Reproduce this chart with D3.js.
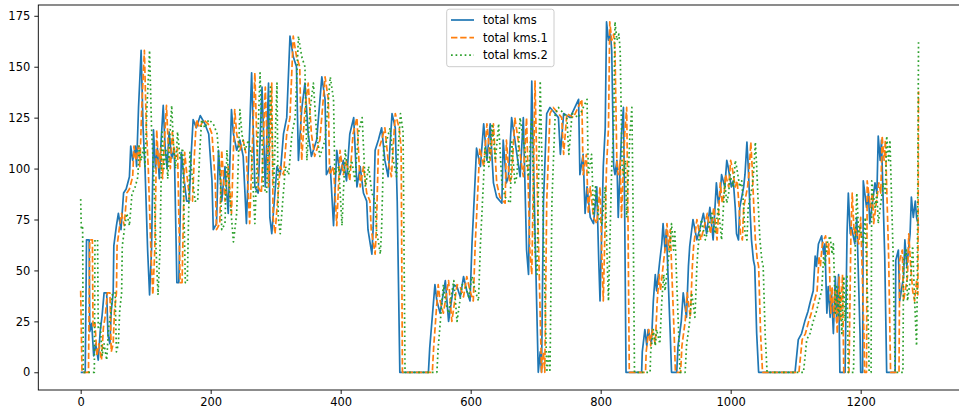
<!DOCTYPE html>
<html>
<head>
<meta charset="utf-8">
<script src="https://cdn.jsdelivr.net/npm/d3@7"></script>
<style>
  html, body { margin: 0; padding: 0; background: #fff; }
  svg { display: block; font-family: "DejaVu Sans", sans-serif; }
</style>
</head>
<body>
<svg id="chart" width="959" height="413"></svg>
<script>
// series values, [index, kms]
const totalKms = [
  [0,0],[7,0],[9,65],[13,65],[14,20],[17,24],[20,8],[23,14],[27,6],[30,20],[33,28],[36,39],[40,39],[42,18],[45,14],[47,30],[50,39],[51,62],[55,72],[58,78],[62,70],[66,88],[70,90],[75,96],[77,111],[80,104],[84,111],[86,101],[89,130],[93,158],[96,120],[99,100],[103,60],[106,38],[109,60],[112,119],[115,100],[118,110],[121,95],[124,115],[127,131],[130,110],[133,100],[136,118],[140,105],[144,110],[148,44],[151,44],[155,108],[159,95],[163,84],[167,84],[170,107],[173,124],[178,120],[184,126],[191,122],[197,117],[202,94],[204,70],[209,73],[212,109],[217,84],[222,101],[227,78],[232,129],[235,117],[240,109],[245,114],[250,106],[255,73],[263,147],[268,91],[273,88],[279,140],[284,91],[289,142],[291,76],[294,68],[302,101],[307,97],[312,117],[317,125],[322,165],[327,155],[332,150],[335,104],[340,129],[345,142],[350,117],[355,106],[363,114],[371,145],[376,134],[378,97],[384,101],[389,72],[394,109],[399,97],[404,104],[409,94],[414,117],[420,125],[425,91],[430,101],[435,88],[440,84],[442,70],[448,58],[450,71],[453,109],[458,114],[463,120],[468,104],[473,96],[479,127],[484,120],[487,84],[491,0],[535,0],[537,12],[545,43],[548,35],[553,29],[561,45],[566,25],[574,43],[579,42],[584,37],[589,47],[594,40],[599,35],[602,63],[604,76],[607,96],[609,110],[615,101],[620,122],[625,104],[630,122],[635,93],[640,86],[648,83],[650,114],[655,93],[658,96],[663,125],[668,114],[676,96],[681,125],[686,60],[689,48],[694,143],[699,68],[704,0],[707,10],[709,0],[712,84],[717,127],[722,130],[730,127],[735,125],[738,107],[743,127],[753,125],[766,134],[768,97],[773,107],[776,78],[779,91],[784,76],[789,73],[794,91],[797,55],[799,35],[804,101],[807,120],[809,172],[812,163],[815,166],[817,158],[820,101],[822,97],[825,104],[827,76],[832,117],[835,130],[837,76],[839,0],[863,0],[864,10],[868,21],[871,13],[873,21],[878,14],[881,35],[884,48],[886,40],[891,55],[894,63],[896,73],[899,60],[901,70],[907,19],[909,0],[917,0],[919,13],[924,25],[927,39],[932,27],[935,52],[937,62],[942,75],[948,65],[953,71],[958,78],[963,68],[968,81],[973,65],[978,93],[981,83],[984,88],[986,97],[991,91],[994,104],[996,101],[1001,91],[1004,94],[1007,81],[1009,68],[1012,65],[1014,81],[1020,91],[1022,97],[1025,113],[1027,101],[1030,78],[1032,65],[1035,55],[1037,52],[1040,19],[1043,0],[1099,0],[1104,16],[1109,19],[1114,25],[1119,30],[1122,34],[1127,40],[1130,57],[1132,52],[1135,63],[1140,67],[1143,58],[1145,63],[1148,29],[1150,42],[1153,27],[1155,40],[1158,19],[1161,47],[1163,25],[1166,48],[1168,0],[1176,0],[1179,68],[1181,88],[1184,68],[1186,71],[1191,63],[1194,76],[1199,19],[1200,0],[1203,0],[1204,94],[1209,81],[1212,88],[1214,73],[1220,88],[1222,93],[1225,88],[1227,116],[1230,104],[1232,114],[1237,57],[1240,0],[1253,0],[1254,55],[1258,60],[1260,35],[1266,47],[1268,65],[1271,52],[1276,68],[1278,86],[1281,76],[1284,84],[1286,76],[1289,72]
];

const totalKms1 = [
  [0,40],[2,0],[12,0],[14,65],[18,65],[19,22],[22,24],[25,8],[28,14],[32,6],[35,22],[38,28],[41,39],[45,39],[47,10],[50,14],[52,30],[55,39],[56,62],[60,72],[63,78],[67,72],[71,88],[75,90],[80,96],[82,111],[85,104],[89,111],[91,101],[94,130],[98,158],[101,120],[104,100],[108,60],[111,38],[114,60],[117,119],[120,100],[123,110],[126,95],[129,115],[132,131],[135,110],[138,100],[141,118],[145,105],[149,110],[153,44],[156,44],[160,108],[164,95],[168,84],[172,84],[175,107],[178,124],[183,120],[189,124],[196,122],[202,117],[207,94],[209,70],[214,73],[217,109],[222,84],[227,101],[232,78],[237,129],[240,117],[245,109],[250,114],[255,106],[260,73],[268,147],[273,91],[278,88],[284,140],[289,91],[294,142],[296,76],[299,68],[307,101],[312,97],[317,117],[322,125],[327,165],[332,155],[337,150],[340,104],[345,129],[350,142],[355,117],[360,106],[368,114],[376,145],[381,134],[383,97],[389,101],[394,72],[399,109],[404,97],[409,104],[414,94],[419,117],[425,125],[430,91],[435,101],[440,88],[445,84],[447,70],[453,58],[455,71],[458,109],[463,114],[468,120],[473,104],[478,96],[484,127],[490,120],[493,110],[495,0],[541,0],[543,12],[550,43],[553,35],[558,29],[566,45],[571,25],[579,43],[584,42],[589,37],[594,47],[599,40],[604,35],[607,63],[609,76],[612,96],[614,110],[620,101],[625,122],[630,104],[635,122],[640,93],[645,86],[653,83],[655,114],[660,93],[663,96],[668,125],[673,114],[681,96],[686,125],[691,60],[694,48],[699,143],[704,68],[709,0],[712,10],[714,0],[717,84],[722,127],[727,130],[735,127],[740,125],[743,107],[748,127],[758,125],[771,134],[773,97],[778,107],[781,78],[784,91],[789,76],[794,73],[799,91],[802,55],[804,35],[809,101],[812,120],[814,172],[817,163],[820,166],[822,158],[825,101],[827,97],[830,104],[832,76],[837,117],[840,130],[842,76],[844,0],[869,0],[870,10],[874,21],[877,13],[879,21],[884,14],[887,35],[890,48],[892,40],[897,55],[900,63],[902,73],[905,60],[907,70],[913,19],[915,0],[923,0],[925,13],[930,25],[933,39],[938,27],[941,52],[943,62],[948,75],[954,65],[959,71],[964,78],[969,68],[974,81],[979,65],[984,93],[987,83],[990,88],[992,97],[997,91],[1000,104],[1002,101],[1007,91],[1010,94],[1013,81],[1015,68],[1018,65],[1020,81],[1026,91],[1028,97],[1031,113],[1033,101],[1036,78],[1038,65],[1041,55],[1043,52],[1046,19],[1049,0],[1105,0],[1110,16],[1115,19],[1120,25],[1125,30],[1128,34],[1133,40],[1136,57],[1138,52],[1141,63],[1146,67],[1149,58],[1151,63],[1154,29],[1156,42],[1159,27],[1161,40],[1164,19],[1167,47],[1169,25],[1172,48],[1174,0],[1182,0],[1185,68],[1187,88],[1190,68],[1192,71],[1197,63],[1200,76],[1205,19],[1206,0],[1209,0],[1210,94],[1215,81],[1218,88],[1220,73],[1226,88],[1228,93],[1231,88],[1233,116],[1236,104],[1238,114],[1243,57],[1246,0],[1259,0],[1260,55],[1264,60],[1266,35],[1272,47],[1274,68],[1277,52],[1280,40],[1283,35],[1286,45],[1288,38],[1289,138]
];

const totalKms2 = [
  [0,85],[1,70],[3,72],[4,0],[21,0],[22,65],[26,65],[27,22],[30,24],[33,8],[36,14],[40,6],[43,22],[46,28],[49,39],[53,39],[55,10],[58,14],[60,30],[63,39],[64,62],[68,72],[71,78],[75,72],[79,88],[83,90],[88,96],[90,111],[93,104],[97,111],[99,101],[102,130],[106,158],[109,120],[112,100],[116,60],[119,38],[122,60],[125,119],[128,100],[131,110],[134,95],[137,115],[140,131],[143,110],[146,100],[149,118],[153,105],[157,110],[161,44],[164,44],[168,108],[172,95],[176,84],[180,84],[183,107],[186,124],[191,120],[197,124],[204,122],[210,117],[215,94],[217,70],[222,73],[225,109],[230,84],[235,64],[240,78],[245,129],[248,117],[253,109],[258,114],[263,106],[268,73],[276,147],[281,91],[286,88],[292,140],[297,91],[302,142],[304,76],[307,68],[315,101],[320,97],[325,117],[330,125],[335,165],[340,155],[345,150],[348,104],[353,129],[358,142],[363,117],[368,106],[376,114],[384,145],[389,134],[391,97],[397,101],[402,72],[407,109],[412,97],[417,104],[422,94],[427,117],[433,125],[438,91],[443,101],[448,88],[453,84],[455,70],[461,58],[463,71],[466,109],[471,114],[476,120],[481,104],[486,96],[492,127],[496,118],[499,0],[548,0],[550,12],[558,43],[561,35],[566,29],[574,45],[579,25],[587,43],[592,42],[597,37],[602,47],[607,40],[612,35],[615,63],[617,76],[620,96],[622,110],[628,101],[633,122],[638,104],[643,122],[648,93],[653,86],[661,83],[663,114],[668,93],[671,96],[676,125],[681,114],[689,96],[694,125],[699,60],[702,48],[707,143],[712,68],[717,0],[720,10],[722,0],[725,84],[730,127],[735,130],[743,127],[748,125],[751,107],[756,127],[766,125],[779,134],[781,97],[786,107],[789,78],[792,91],[797,76],[802,73],[807,91],[810,55],[812,35],[817,101],[820,120],[822,172],[825,163],[828,166],[830,158],[833,101],[835,97],[838,104],[840,76],[845,117],[848,130],[850,76],[852,0],[876,0],[877,10],[881,21],[884,13],[886,21],[891,14],[894,35],[897,48],[899,40],[904,55],[907,63],[909,73],[912,60],[914,70],[920,19],[922,0],[930,0],[932,13],[937,25],[940,39],[945,27],[948,52],[950,62],[955,75],[961,65],[966,71],[971,78],[976,68],[981,81],[986,65],[991,93],[994,83],[997,88],[999,97],[1004,91],[1007,104],[1009,101],[1014,91],[1017,94],[1020,81],[1022,68],[1025,65],[1027,81],[1033,91],[1035,97],[1038,113],[1040,101],[1043,78],[1045,65],[1048,55],[1050,52],[1053,19],[1056,0],[1112,0],[1117,16],[1122,19],[1127,25],[1132,30],[1135,34],[1140,40],[1143,57],[1145,52],[1148,63],[1153,67],[1156,58],[1158,63],[1161,29],[1163,42],[1166,27],[1168,40],[1171,19],[1174,47],[1176,25],[1179,48],[1181,0],[1189,0],[1192,68],[1194,88],[1197,68],[1199,71],[1204,63],[1207,76],[1212,19],[1213,0],[1216,0],[1217,94],[1222,81],[1225,88],[1227,73],[1233,88],[1235,93],[1238,88],[1240,116],[1243,104],[1245,114],[1250,57],[1253,0],[1265,0],[1266,55],[1270,60],[1272,35],[1277,47],[1280,62],[1283,35],[1286,13],[1287,40],[1289,163]
];

const seriesNames = ["total kms", "total kms.1", "total kms.2"];
const seriesColors = ["#1f77b4", "#ff7f0e", "#2ca02c"];
const seriesDash = [null, "6.4,2.8", "1.7,2.85"];
const xTicks = [0, 200, 400, 600, 800, 1000, 1200];
const yTicks = [0, 25, 50, 75, 100, 125, 150, 175];

const svg = d3.select("#chart");
const plotLeft = 38.3, plotRight = 960, plotTop = 5, plotBottom = 390;

const x = d3.scaleLinear().domain([-65.2, 1352.8]).range([plotLeft, plotRight]);
const y = d3.scaleLinear().domain([-8.7, 180.3]).range([plotBottom, plotTop]);

svg.append("defs").append("clipPath").attr("id", "clip")
  .append("rect").attr("x", plotLeft).attr("y", plotTop)
  .attr("width", plotRight - plotLeft).attr("height", plotBottom - plotTop);

// axes
const xAxis = svg.append("g").attr("transform", `translate(0,${plotBottom})`)
  .call(d3.axisBottom(x).tickValues(xTicks).tickFormat(d3.format("d")).tickSize(4).tickPadding(4));
const yAxis = svg.append("g").attr("transform", `translate(${plotLeft},0)`)
  .call(d3.axisLeft(y).tickValues(yTicks).tickFormat(d3.format("d")).tickSize(4).tickPadding(4));

[xAxis, yAxis].forEach(g => {
  g.select(".domain").remove();
  g.selectAll(".tick line").attr("stroke", "#000").attr("stroke-width", 0.9);
  g.selectAll(".tick text").attr("fill", "#000")
    .style("font-family", "DejaVu Sans").style("font-size", "11.5px");
});

// lines
const line = d3.line().x(d => x(d[0])).y(d => y(d[1]));
const plot = svg.append("g").attr("clip-path", "url(#clip)");
[totalKms, totalKms1, totalKms2].forEach((data, i) => {
  plot.append("path")
    .datum(data)
    .attr("fill", "none")
    .attr("stroke", seriesColors[i])
    .attr("stroke-width", 1.7)
    .attr("stroke-linejoin", "round")
    .attr("stroke-dasharray", seriesDash[i])
    .attr("d", line);
});

// frame
svg.append("rect")
  .attr("x", plotLeft).attr("y", plotTop)
  .attr("width", plotRight - plotLeft).attr("height", plotBottom - plotTop)
  .attr("fill", "none").attr("stroke", "#000").attr("stroke-width", 0.9);

// legend
const lg = svg.append("g");
lg.append("rect")
  .attr("x", 446.7).attr("y", 9.2).attr("width", 107.3).attr("height", 57.5)
  .attr("rx", 2.5).attr("fill", "#fff").attr("fill-opacity", 0.8)
  .attr("stroke", "#cccccc").attr("stroke-width", 1);
seriesNames.forEach((name, i) => {
  const cy = 20 + i * 17.6;
  lg.append("line")
    .attr("x1", 451).attr("x2", 474).attr("y1", cy).attr("y2", cy)
    .attr("stroke", seriesColors[i]).attr("stroke-width", 1.7)
    .attr("stroke-dasharray", seriesDash[i]);
  lg.append("text")
    .attr("x", 483).attr("y", cy + 4.2)
    .style("font-size", "11.5px").attr("fill", "#000")
    .text(name);
});
</script>
</body>
</html>
